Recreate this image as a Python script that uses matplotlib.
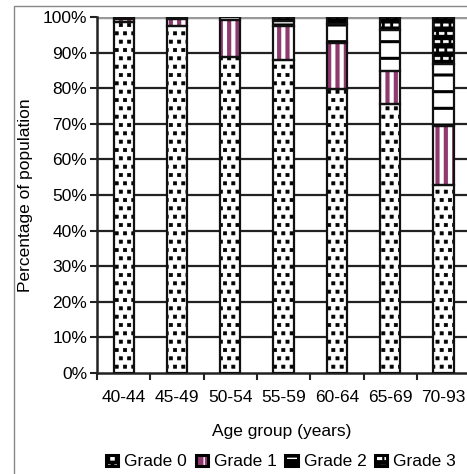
import numpy as np
import matplotlib.pyplot as plt
import matplotlib.hatch as mhatch
from matplotlib.path import Path
from matplotlib.patches import Rectangle
from matplotlib.legend_handler import HandlerTuple
from matplotlib.ticker import FixedLocator, PercentFormatter

plt.rcParams['font.family'] = ['Liberation Sans', 'DejaVu Sans']
plt.rcParams['font.size'] = 12.5


# square dots / bricks instead of the default round hatch shapes
class SquareDots(mhatch.Shapes):
    size = 0.19
    filled = True

    def __init__(self, hatch, density):
        self.num_rows = hatch.count('.') * density
        self.shape_vertices = np.array([[-1, -1], [1, -1], [1, 1], [-1, 1], [-1, -1]], float)
        self.shape_codes = np.array([1, 2, 2, 2, 79], dtype=Path.code_type)
        super().__init__(hatch, density)


class Bricks(mhatch.Shapes):
    size = 0.13
    filled = True

    def __init__(self, hatch, density):
        self.num_rows = hatch.count('o') * density
        self.shape_vertices = np.array([[-2.2, -1], [2.2, -1], [2.2, 1], [-2.2, 1], [-2.2, -1]], float)
        self.shape_codes = np.array([1, 2, 2, 2, 79], dtype=Path.code_type)
        super().__init__(hatch, density)


mhatch._hatch_types = [SquareDots if t is mhatch.SmallFilledCircles
                       else Bricks if t is mhatch.SmallCircles else t
                       for t in mhatch._hatch_types]

age_groups = ["40-44", "45-49", "50-54", "55-59", "60-64", "65-69", "70-93"]
grade0 = [98.5, 97.5, 88.7, 88.0, 79.7, 75.6, 52.8]
grade1 = [1.0, 2.0, 10.5, 9.5, 12.9, 9.3, 16.6]
grade2 = [0.5, 0.5, 0.8, 1.5, 5.4, 11.4, 17.4]
grade3 = [0.0, 0.0, 0.0, 1.0, 2.0, 3.7, 13.2]
labels = ["Grade 0", "Grade 1", "Grade 2", "Grade 3"]

purple = "#8e3a6e"

# face, hatch colour, hatch, hatch linewidth
styles = [
    ("white", "black", "..", 0.5),
    ("white", purple, "||", 3.0),
    ("white", "black", "-", 2.2),
    ("black", "white", "oo", 0.5),
]

fig = plt.figure(figsize=(4.67, 4.74), dpi=100)
ax = fig.add_axes([97 / 467, 1 - 373 / 474, 1 - 97 / 467, (373 - 17) / 474])

x = np.arange(len(age_groups))
width = 0.38
bottom = np.zeros(len(age_groups))

for i, series in enumerate([grade0, grade1, grade2, grade3]):
    vals = np.array(series)
    face, hcol, hatch, hlw = styles[i]
    with plt.rc_context({'hatch.linewidth': hlw, 'hatch.color': hcol}):
        bars = ax.bar(x, vals, width, bottom=bottom, color=face,
                      edgecolor=hcol, hatch=hatch, linewidth=0, zorder=3)
        for b in bars:
            if hasattr(b, "set_hatch_linewidth"):
                b.set_hatch_linewidth(hlw)
    ax.bar(x, vals, width, bottom=bottom, fill=False,
           edgecolor="#111111", linewidth=1.6, zorder=4)
    bottom += vals

# legend icons: small black squares with a white / purple pattern
leg_styles = [
    ("black", "white", "..", 0.5),
    (purple, "white", "||", 1.5),
    ("black", "white", "-", 2.0),
    ("black", "white", "oo", 0.5),
]
handles = []
for face, hcol, hatch, hlw in leg_styles:
    with plt.rc_context({'hatch.linewidth': hlw}):
        inner = Rectangle((0, 0), 1, 1, facecolor=face, edgecolor=hcol,
                          hatch=hatch, linewidth=0)
        if hasattr(inner, "set_hatch_linewidth"):
            inner.set_hatch_linewidth(hlw)
    outline = Rectangle((0, 0), 1, 1, fill=False, edgecolor="black", linewidth=2.2)
    handles.append((inner, outline))

ax.set_ylim(0, 100)
ax.set_xlim(-0.5, -0.5 + (467 - 97) / 53.3)
ax.yaxis.set_major_locator(FixedLocator(np.arange(0, 101, 10)))
ax.yaxis.set_major_formatter(PercentFormatter(decimals=0))
ax.set_xticks(x)
ax.set_xticklabels(age_groups)
ax.tick_params(axis="x", length=0, pad=12)
ax.xaxis.set_minor_locator(FixedLocator(np.arange(-0.5, 7, 1)))
ax.tick_params(axis="x", which="minor", length=5, width=1.5, color="#222222")
ax.tick_params(axis="y", length=5, width=1.5, color="#222222", pad=2)

for yv in range(10, 100, 10):
    ax.axhline(yv, color="#222222", linewidth=1.6, zorder=1)
ax.axhline(100, color="#999999", linewidth=2.5, zorder=2)

for s in ["top", "right"]:
    ax.spines[s].set_visible(False)
ax.spines["left"].set_linewidth(1.8)
ax.spines["left"].set_color("#222222")
ax.spines["bottom"].set_linewidth(1.8)
ax.spines["bottom"].set_color("#222222")

ax.set_ylabel("Percentage of population", labelpad=7)
ax.set_xlabel("Age group (years)", labelpad=14)

fig.legend(handles, labels, loc="center", bbox_to_anchor=(281 / 467, 1 - 462 / 474),
           ncol=4, frameon=False, handlelength=0.7, handleheight=0.55,
           handletextpad=0.35, columnspacing=0.5, borderpad=0,
           handler_map={tuple: HandlerTuple(ndivide=1, pad=0)})

# figure border
border = Rectangle((14 / 467, -0.1), 1.2, 1 - 6 / 474 + 0.1, transform=fig.transFigure,
                   fill=False, edgecolor="#888888", linewidth=1.0, clip_on=False)
fig.patches.append(border)

fig.savefig("out.png", dpi=100)
